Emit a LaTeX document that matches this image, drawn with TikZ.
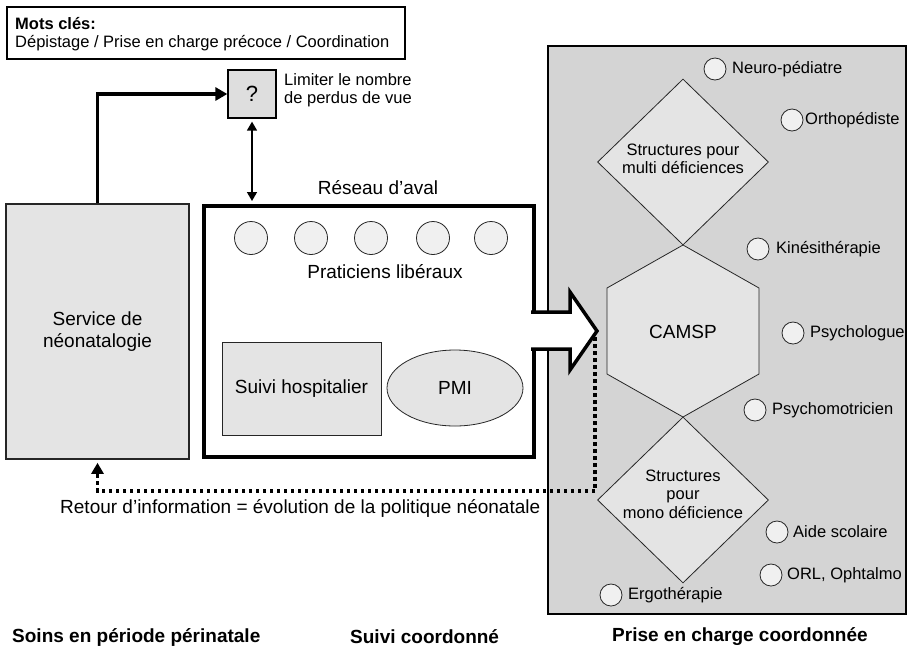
\documentclass[tikz,border=0pt]{standalone}
\usepackage{fontspec}
\setmainfont{Liberation Sans}
\usetikzlibrary{arrows.meta,shapes.geometric,calc}
\begin{document}
\begin{tikzpicture}[x=1pt,y=-1pt,
  big/.style={font=\fontsize{19}{22}\selectfont},
  sm/.style={font=\fontsize{16.5}{18.5}\selectfont},
  capt/.style={font=\bfseries\fontsize{19}{22}\selectfont, anchor=west, inner sep=0pt},
  lbl/.style={sm, anchor=west, inner sep=0pt},
  shapefill/.style={fill=gray!21, draw=black!85, line width=0.8pt},
  pcirc/.style={circle, draw=black!85, fill=gray!12, line width=0.8pt, minimum size=33pt, inner sep=0pt},
  scirc/.style={circle, draw=black!85, fill=gray!12, line width=0.8pt, minimum size=22pt, inner sep=0pt},
  thickarrow/.style={line width=3.5pt, -{Triangle[length=12pt,width=13pt]}},
  dblarrow/.style={line width=1.6pt, {Triangle[length=9pt,width=10pt]}-{Triangle[length=9pt,width=10pt]}, shorten <=3pt, shorten >=3pt},
  dotline/.style={line width=3.5pt, dash pattern=on 3.5pt off 3.5pt, -{Triangle[length=11pt,width=12pt]}},
]
\useasboundingbox (0,0) rectangle (910,657);

% keywords box
\node[draw, line width=1.3pt, minimum width=398pt, minimum height=52pt, inner sep=0pt] (kw) at (206,33) {};
\node[font=\bfseries\fontsize{16.5}{18.5}\selectfont, anchor=west, inner sep=0pt] (kwt) at (15,24) {Mots clés:};
\node[lbl] (kwl) at (15,43) {Dépistage / Prise en charge précoce / Coordination};

% question box
\node[draw, line width=1.3pt, fill=gray!26, minimum width=48pt, minimum height=48pt, inner sep=0pt, font=\fontsize{22}{24}\selectfont] (q) at (252,94) {?};
\node[sm, anchor=west, align=left, inner sep=0pt] (qlbl) at (284,90) {Limiter le nombre\\de perdus de vue};

% service box
\node[draw=black!85, line width=1.6pt, fill=gray!21, minimum width=183pt, minimum height=255pt, inner sep=0pt, big, align=center] (serv) at (97.5,331.5) {Service de\\néonatalogie};

% reseau box
\node[draw, line width=4pt, fill=white, minimum width=330pt, minimum height=251pt, inner sep=0pt] (res) at (369,331.5) {};
\node[big] (restitle) at (378,188) {Réseau d’aval};
\foreach \i/\x in {1/251,2/311,3/371,4/433,5/491}{
  \node[pcirc] (p\i) at (\x,238) {};
}
\node[big] (prat) at (385,272) {Praticiens libéraux};
\node[draw=black!85, line width=0.8pt, fill=gray!21, minimum width=159pt, minimum height=93pt, inner sep=0pt, big] (hosp) at (301.5,388.5) {Suivi hospitalier};
\node[ellipse, draw=black!85, line width=0.8pt, fill=gray!21, minimum width=136pt, minimum height=76pt, inner sep=0pt, big] (pmi) at (455,388) {PMI};

% arrows on left
\draw[thickarrow] (serv.north) |- (q.west);
\draw[dblarrow] (q.south) -- (q.south |- res.north);

% right panel
\node[draw, line width=1.6pt, fill=gray!34, minimum width=358pt, minimum height=568pt, inner sep=0pt] (panel) at (727,330) {};

\node[diamond, shapefill, minimum width=171pt, minimum height=166pt, inner sep=0pt] (d1) at (683,162) {};
\node[sm, align=center] (d1t) at (683,159) {Structures pour\\multi déficiences};

\coordinate (h1) at (683,245);
\coordinate (h2) at (759,288);
\coordinate (h3) at (759,374);
\coordinate (h4) at (683,417);
\coordinate (h5) at (607,374);
\coordinate (h6) at (607,288);
\draw[shapefill, line join=miter] (h1) -- (h2) -- (h3) -- (h4) -- (h5) -- (h6) -- cycle;
\node[big] (camsp) at (683,332) {CAMSP};

\node[diamond, shapefill, minimum width=171pt, minimum height=166pt, inner sep=0pt] (d2) at (683,500) {};
\node[sm, align=center] (d2t) at (683,494) {Structures\\pour\\mono déficience};

\node[scirc] (c1) at (715,69) {};
\node[lbl] (t1) at (732,69) {Neuro-pédiatre};
\node[scirc] (c2) at (792,120) {};
\node[lbl] (t2) at (805,120) {Orthopédiste};
\node[scirc] (c3) at (758,249) {};
\node[lbl] (t3) at (776,249) {Kinésithérapie};
\node[scirc] (c4) at (793,333) {};
\node[lbl] (t4) at (810,333) {Psychologue};
\node[scirc] (c5) at (755,410) {};
\node[lbl] (t5) at (772,410) {Psychomotricien};
\node[scirc] (c6) at (777,532) {};
\node[lbl] (t6) at (793,532) {Aide scolaire};
\node[scirc] (c7) at (771,575) {};
\node[lbl] (t7) at (787,575) {ORL, Ophtalmo};
\node[scirc] (c8) at (611,595) {};
\node[lbl] (t8) at (628,595) {Ergothérapie};

% big arrow
\coordinate (a1) at (531,312);
\coordinate (a2) at (570,312);
\coordinate (a3) at (570,292);
\coordinate (tip) at (597,331);
\coordinate (a5) at (570,370);
\coordinate (a6) at (570,349);
\coordinate (a7) at (531,349);
\fill[white] (a1) -- (a2) -- (a3) -- (tip) -- (a5) -- (a6) -- (a7) -- cycle;
\draw[line width=3.5pt, line join=miter] (a1) -- (a2) -- (a3) -- (tip) -- (a5) -- (a6) -- (a7);

% dotted feedback
\coordinate (dstart) at (595,337);
\coordinate (dcorner) at (595,491);
\draw[dotline, shorten >=3pt] (dstart) -- (dcorner) -| (serv.south);
\node[big, anchor=west, inner sep=0pt] (retour) at (60,508) {Retour d’information = évolution de la politique néonatale};

% captions
\node[capt] (cap1) at (12,637) {Soins en période périnatale};
\node[capt] (cap2) at (350,637) {Suivi coordonné};
\node[capt] (cap3) at (612,637) {Prise en charge coordonnée};
\end{tikzpicture}
\end{document}
